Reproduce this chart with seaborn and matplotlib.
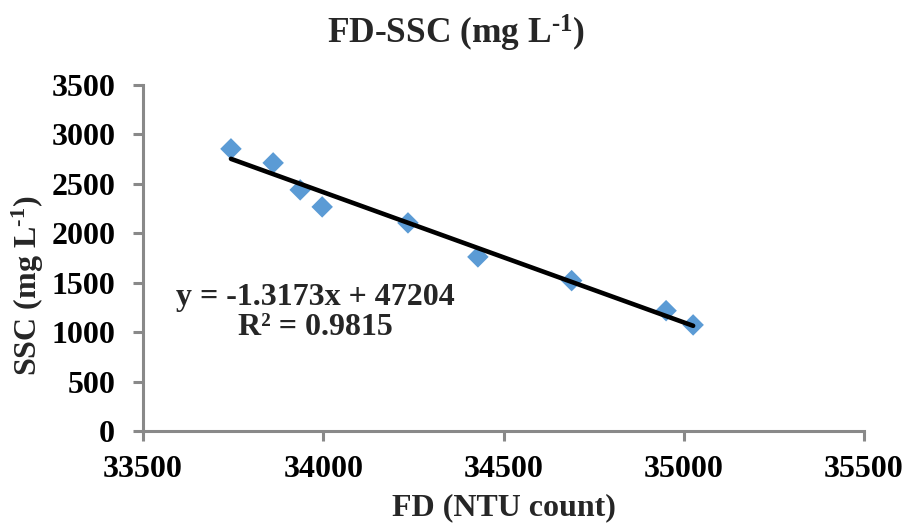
import matplotlib
matplotlib.use("Agg")
import matplotlib.pyplot as plt
import seaborn as sns
import pandas as pd

# Turbidity counts (FD) against suspended sediment concentration (SSC)
fd_counts = [33744, 33861, 33936, 33997, 34235, 34429, 34689, 34951, 35026]
ssc_values = [2854, 2712, 2439, 2267, 2105, 1761, 1521, 1217, 1073]

# Linear trend reported on the chart
slope = -1.3173
intercept = 47204
r_squared = 0.9815

x_ticks = [33500, 34000, 34500, 35000, 35500]
y_ticks = [0, 500, 1000, 1500, 2000, 2500, 3000, 3500]

sns.set_theme(style="white")
plt.rcParams["font.family"] = ["Liberation Serif", "DejaVu Serif"]
plt.rcParams["font.weight"] = "bold"
plt.rcParams["mathtext.fontset"] = "custom"
plt.rcParams["mathtext.rm"] = "Liberation Serif:bold"
plt.rcParams["mathtext.it"] = "Liberation Serif:bold"
plt.rcParams["mathtext.bf"] = "Liberation Serif:bold"
plt.rcParams["mathtext.default"] = "regular"

df = pd.DataFrame({"FD": fd_counts, "SSC": ssc_values})
x_line = [min(fd_counts), max(fd_counts)]
trend = pd.DataFrame({"FD": x_line, "SSC": [slope * v + intercept for v in x_line]})

fig = plt.figure(figsize=(9.06, 5.30), dpi=100)
ax = fig.add_axes([143 / 906, 1 - 431 / 530, (864 - 143) / 906, (431 - 85) / 530])

sns.scatterplot(data=df, x="FD", y="SSC", marker="D", s=120, color="#5B9BD5",
                edgecolor="none", ax=ax, zorder=3)
sns.lineplot(data=trend, x="FD", y="SSC", color="black", linewidth=3.3, ax=ax, zorder=4)

ax.set_xlim(33500, 35500)
ax.set_ylim(0, 3500)
ax.set_xticks(x_ticks)
ax.set_yticks(y_ticks)
ax.set_xticklabels([str(t) for t in x_ticks])
ax.set_yticklabels([str(t) for t in y_ticks])

gray = "#898989"
for side in ("top", "right"):
    ax.spines[side].set_visible(False)
for side in ("left", "bottom"):
    ax.spines[side].set_color(gray)
    ax.spines[side].set_linewidth(2.2)
ax.tick_params(axis="both", direction="out", length=7, width=2.2, color=gray,
               labelsize=23, labelcolor="black")
ax.tick_params(axis="y", pad=13)
ax.tick_params(axis="x", pad=10)
ax.tick_params(axis="both", which="both", bottom=True, left=True)
ax.grid(False)

ax.set_xlabel("FD (NTU count)", fontsize=23, fontweight="bold", labelpad=7)
ax.set_ylabel(r"SSC (mg L$^{\text{-1}}$)", fontsize=23, fontweight="bold")
ax.yaxis.set_label_coords(-0.135, 0.42)

fig.text(456 / 906, 1 - 33 / 530, r"FD-SSC (mg L$^{\text{-1}}$)", ha="center", va="center",
         fontsize=25.5, fontweight="bold")

ax.text(33977, 1275, f"y = {slope}x + {intercept}", ha="center", va="baseline",
        fontsize=23, fontweight="bold")
ax.text(33977, 971, f"R² = {r_squared}", ha="center", va="baseline",
        fontsize=23, fontweight="bold")

fig.savefig("out.png", dpi=100, facecolor="white")
